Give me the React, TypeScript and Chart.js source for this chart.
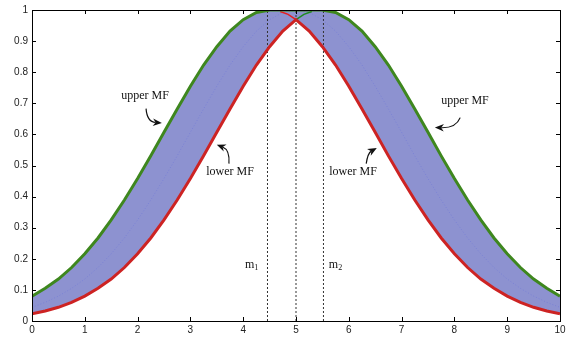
import React, { useEffect, useRef } from "react";
import { Chart, registerables } from "chart.js";

Chart.register(...registerables);

const xs = [0, 0.25, 0.5, 0.75, 1, 1.25, 1.5, 1.75, 2, 2.25, 2.5, 2.75, 3, 3.25, 3.5, 3.75, 4, 4.25, 4.5, 4.75, 5, 5.25, 5.5, 5.75, 6, 6.25, 6.5, 6.75, 7, 7.25, 7.5, 7.75, 8, 8.25, 8.5, 8.75, 9, 9.25, 9.5, 9.75, 10];

const upperMF = [0.080, 0.105, 0.135, 0.172, 0.216, 0.267, 0.325, 0.389, 0.458, 0.531, 0.607, 0.682, 0.755, 0.823, 0.882, 0.932, 0.969, 0.992, 1, 1, 1, 1, 1, 0.992, 0.969, 0.932, 0.882, 0.823, 0.755, 0.682, 0.607, 0.531, 0.458, 0.389, 0.325, 0.267, 0.216, 0.172, 0.135, 0.105, 0.080];

const lowerMF = [0.023, 0.032, 0.044, 0.060, 0.080, 0.105, 0.135, 0.172, 0.216, 0.267, 0.325, 0.389, 0.458, 0.531, 0.607, 0.682, 0.755, 0.823, 0.882, 0.932, 0.969, 0.932, 0.882, 0.823, 0.755, 0.682, 0.607, 0.531, 0.458, 0.389, 0.325, 0.267, 0.216, 0.172, 0.135, 0.105, 0.080, 0.060, 0.044, 0.032, 0.023];

const principalMF = [0.044, 0.060, 0.080, 0.105, 0.135, 0.172, 0.216, 0.267, 0.325, 0.389, 0.458, 0.531, 0.607, 0.682, 0.755, 0.823, 0.882, 0.932, 0.969, 0.992, 1, 0.992, 0.969, 0.932, 0.882, 0.823, 0.755, 0.682, 0.607, 0.531, 0.458, 0.389, 0.325, 0.267, 0.216, 0.172, 0.135, 0.105, 0.080, 0.060, 0.044];

// small hidden-part fragments near the top
const redFragX = [4.7, 4.85, 5];
const redFragY = [0.995, 0.986, 0.969];
const greenFragX = [5, 5.15, 5.3];
const greenFragY = [0.969, 0.986, 0.995];

const mLines = [4.46, 5, 5.52];
const mLineRange = [0, 1];

const xTickValues = [0, 1, 2, 3, 4, 5, 6, 7, 8, 9, 10];
const yTickLabels = ["0", "0.1", "0.2", "0.3", "0.4", "0.5", "0.6", "0.7", "0.8", "0.9", "1"];

const annotations = [
  { text: "upper MF", tx: 2.14, ty: 0.725, from: [2.16, 0.683], ctrl: [2.18, 0.64], to: [2.46, 0.637] },
  { text: "lower MF", tx: 3.75, ty: 0.478, from: [3.73, 0.506], ctrl: [3.75, 0.55], to: [3.5, 0.567] },
  { text: "lower MF", tx: 6.08, ty: 0.478, from: [6.33, 0.506], ctrl: [6.36, 0.54], to: [6.53, 0.556] },
  { text: "upper MF", tx: 8.2, ty: 0.708, from: [8.11, 0.654], ctrl: [8.03, 0.62], to: [7.63, 0.622] },
];
const mTexts = [
  { sub: "1", x: 4.19, y: 0.18 },
  { sub: "2", x: 5.78, y: 0.18 },
];

const GREEN = "rgb(62,135,30)";
const RED = "rgb(205,35,35)";
const FILL = "rgb(141,146,208)";

const pts = (x: number[], y: number[]) => x.map((v, i) => ({ x: v, y: y[i] }));

const framePlugin = {
  id: "frameAndNotes",
  afterDraw(chart: any) {
    const { ctx, chartArea: a, scales } = chart;
    const xs_ = scales.x;
    const ys_ = scales.y;
    ctx.save();
    // frame
    ctx.strokeStyle = "#000";
    ctx.lineWidth = 1;
    ctx.strokeRect(Math.round(a.left) + 0.5, Math.round(a.top) + 0.5, Math.round(a.right - a.left), Math.round(a.bottom - a.top));
    // inward ticks
    ctx.beginPath();
    xTickValues.forEach((v) => {
      const px = Math.round(xs_.getPixelForValue(v)) + 0.5;
      ctx.moveTo(px, a.bottom);
      ctx.lineTo(px, a.bottom - 4);
      ctx.moveTo(px, a.top);
      ctx.lineTo(px, a.top + 4);
    });
    yTickLabels.forEach((_, i) => {
      const py = Math.round(ys_.getPixelForValue(i / 10)) + 0.5;
      ctx.moveTo(a.left, py);
      ctx.lineTo(a.left + 4, py);
      ctx.moveTo(a.right, py);
      ctx.lineTo(a.right - 4, py);
    });
    ctx.stroke();

    // annotations
    ctx.fillStyle = "#111";
    ctx.font = "12px 'Liberation Serif'";
    ctx.textAlign = "center";
    ctx.textBaseline = "middle";
    annotations.forEach((an) => {
      ctx.fillText(an.text, xs_.getPixelForValue(an.tx), ys_.getPixelForValue(an.ty));
      const p0 = { x: xs_.getPixelForValue(an.from[0]), y: ys_.getPixelForValue(an.from[1]) };
      const c = { x: xs_.getPixelForValue(an.ctrl[0]), y: ys_.getPixelForValue(an.ctrl[1]) };
      const p1 = { x: xs_.getPixelForValue(an.to[0]), y: ys_.getPixelForValue(an.to[1]) };
      const ang = Math.atan2(p1.y - c.y, p1.x - c.x);
      const L = 9;
      const W = 3.8;
      const bx = p1.x - L * Math.cos(ang);
      const by = p1.y - L * Math.sin(ang);
      const nx = p1.x - L * 0.7 * Math.cos(ang);
      const ny = p1.y - L * 0.7 * Math.sin(ang);
      ctx.strokeStyle = "#111";
      ctx.lineWidth = 1.2;
      ctx.beginPath();
      ctx.moveTo(p0.x, p0.y);
      ctx.quadraticCurveTo(c.x, c.y, nx, ny);
      ctx.stroke();
      ctx.beginPath();
      ctx.moveTo(p1.x, p1.y);
      ctx.lineTo(bx - W * Math.sin(ang), by + W * Math.cos(ang));
      ctx.lineTo(nx, ny);
      ctx.lineTo(bx + W * Math.sin(ang), by - W * Math.cos(ang));
      ctx.closePath();
      ctx.fill();
    });
    // m labels
    mTexts.forEach((m) => {
      const px = xs_.getPixelForValue(m.x);
      const py = ys_.getPixelForValue(m.y);
      ctx.font = "12px 'Liberation Serif'";
      ctx.textAlign = "right";
      ctx.fillText("m", px + 1, py);
      ctx.font = "8px 'Liberation Serif'";
      ctx.textAlign = "left";
      ctx.fillText(m.sub, px + 1, py + 3);
    });
    ctx.restore();
  },
};

export default function App() {
  const ref = useRef<HTMLCanvasElement | null>(null);
  useEffect(() => {
    if (!ref.current) return;
    const vDatasets = mLines.map((m) => ({
      data: pts([m, m], mLineRange),
      borderColor: "#333",
      borderWidth: 1,
      borderDash: [2, 2],
      pointRadius: 0,
      fill: false,
    }));
    const chart = new Chart(ref.current, {
      type: "line",
      data: {
        datasets: [
          {
            data: pts(xs, upperMF),
            borderColor: GREEN,
            borderWidth: 3,
            pointRadius: 0,
            fill: 1,
            backgroundColor: FILL,
            tension: 0,
          },
          {
            data: pts(xs, lowerMF),
            borderColor: RED,
            borderWidth: 3,
            pointRadius: 0,
            fill: false,
            tension: 0,
          },
          {
            data: pts(redFragX, redFragY),
            borderColor: "rgb(230,30,30)",
            borderWidth: 1.5,
            pointRadius: 0,
            fill: false,
          },
          {
            data: pts(greenFragX, greenFragY),
            borderColor: "rgb(30,140,30)",
            borderWidth: 1.5,
            pointRadius: 0,
            fill: false,
          },
          {
            data: pts(xs, principalMF),
            borderColor: "rgba(90,100,220,0.45)",
            borderWidth: 0.8,
            borderDash: [1, 2],
            pointRadius: 0,
            fill: false,
          },
          ...vDatasets,
        ],
      },
      options: {
        responsive: false,
        animation: false,
        devicePixelRatio: 1,
        layout: { padding: { top: 9, right: 17, left: 0, bottom: 0 } },
        plugins: {
          legend: { display: false },
          tooltip: { enabled: false },
          filler: { drawTime: "beforeDatasetsDraw" },
        },
        scales: {
          x: {
            type: "linear",
            min: 0,
            max: 10,
            grid: { display: false, drawTicks: false },
            border: { display: false },
            ticks: {
              stepSize: 1,
              padding: 3,
              color: "#222",
              font: { family: "'Liberation Sans'", size: 10 },
              maxRotation: 0,
              callback: (v: any) => String(v),
            },
            afterFit: (s: any) => {
              s.height = 18;
            },
          },
          y: {
            type: "linear",
            min: 0,
            max: 1,
            grid: { display: false, drawTicks: false },
            border: { display: false },
            ticks: {
              stepSize: 0.1,
              padding: 4,
              color: "#222",
              font: { family: "'Liberation Sans'", size: 10 },
              callback: (v: any) => yTickLabels[Math.round(Number(v) * 10)],
            },
            afterFit: (s: any) => {
              s.width = 32;
            },
          },
        },
      },
      plugins: [framePlugin],
    } as any);
    return () => chart.destroy();
  }, []);
  return (
    <div style={{ position: "fixed", left: 0, top: 0, width: 577, height: 339, background: "#fff" }}>
      <canvas ref={ref} width={577} height={339} style={{ display: "block" }} />
    </div>
  );
}
